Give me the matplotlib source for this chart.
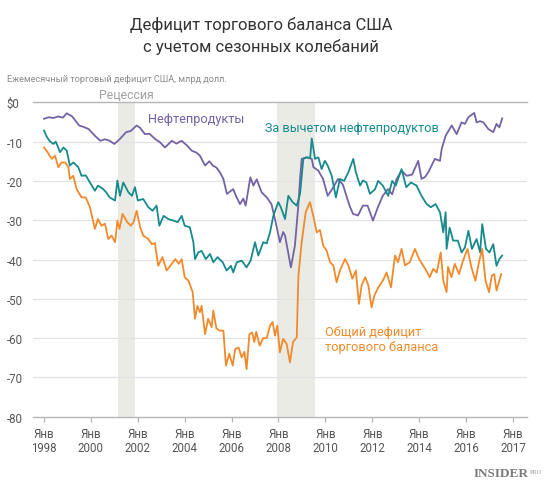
import matplotlib
matplotlib.use("Agg")
from matplotlib import pyplot as plt

plt.rcParams['font.family'] = ['Roboto', 'DejaVu Sans']

# petroleum balance (decimal year, bn USD)
oil_years = [1998.0, 1998.2, 1998.4, 1998.6, 1998.8, 1998.97, 1999.2, 1999.5, 1999.7, 1999.9,
             2000.15, 2000.4, 2000.6, 2000.8, 2001.0, 2001.24, 2001.5, 2001.7, 2001.95, 2002.1,
             2002.3, 2002.5, 2002.73, 2002.95, 2003.16, 2003.45, 2003.65, 2003.87, 2004.1, 2004.3,
             2004.5, 2004.65, 2004.87, 2005.05, 2005.2, 2005.35, 2005.5, 2005.65, 2005.8, 2006.07,
             2006.2, 2006.36, 2006.5, 2006.6, 2006.8, 2006.93, 2007.07, 2007.28, 2007.5, 2007.7,
             2007.85, 2008.06, 2008.2, 2008.28, 2008.53, 2008.7, 2008.85, 2008.92, 2008.99, 2009.2,
             2009.42, 2009.49, 2009.7, 2009.9, 2010.1, 2010.3, 2010.54, 2010.75, 2011.03, 2011.18,
             2011.39, 2011.6, 2011.8, 2012.03, 2012.24, 2012.45, 2012.67, 2012.85, 2013.04, 2013.25,
             2013.47, 2013.7, 2013.96, 2014.1, 2014.25, 2014.39, 2014.67, 2014.89, 2014.96, 2015.13,
             2015.39, 2015.6, 2015.81, 2015.95, 2016.1, 2016.35, 2016.45, 2016.6, 2016.74, 2016.95,
             2017.16, 2017.3, 2017.42, 2017.54]
oil_values = [-4.2, -3.8, -4.0, -3.6, -3.9, -2.8, -3.6, -5.9, -6.3, -6.8,
              -8.4, -9.8, -9.4, -9.8, -10.6, -9.3, -7.6, -7.3, -5.9, -6.5,
              -8.1, -8.0, -9.3, -10.2, -11.5, -9.8, -10.5, -9.8, -11.0, -12.3,
              -12.8, -13.6, -16.1, -15.0, -16.1, -16.6, -17.8, -19.5, -23.3, -22.1,
              -24.0, -25.9, -24.5, -26.3, -19.1, -21.2, -19.6, -22.9, -24.2, -25.9,
              -29.7, -35.6, -33.0, -33.9, -42.0, -36.5, -26.0, -19.5, -14.4, -14.0,
              -14.4, -16.5, -17.4, -19.5, -23.8, -22.0, -19.5, -21.0, -26.3, -28.4,
              -28.8, -26.3, -26.3, -30.1, -26.7, -23.8, -22.1, -23.4, -19.5, -17.4,
              -18.7, -18.4, -14.9, -19.5, -19.0, -17.8, -14.4, -14.9, -11.9, -8.5,
              -5.9, -8.1, -5.1, -5.5, -3.8, -2.7, -5.1, -4.8, -5.1, -6.8,
              -7.6, -5.5, -6.4, -4.1]

# non-petroleum balance
ex_years = [1998.0, 1998.12, 1998.23, 1998.4, 1998.5, 1998.57, 1998.68, 1998.83, 1998.97, 1999.1,
            1999.25, 1999.46, 1999.6, 1999.78, 1999.96, 2000.17, 2000.3, 2000.53, 2000.65, 2000.8,
            2001.03, 2001.13, 2001.24, 2001.38, 2001.6, 2001.75, 2001.88, 2002.0, 2002.23, 2002.45,
            2002.63, 2002.8, 2002.92, 2003.1, 2003.3, 2003.52, 2003.7, 2003.87, 2004.0, 2004.22,
            2004.37, 2004.44, 2004.58, 2004.72, 2004.9, 2005.08, 2005.22, 2005.4, 2005.62, 2005.79,
            2005.97, 2006.07, 2006.22, 2006.43, 2006.64, 2006.81, 2007.0, 2007.14, 2007.35, 2007.5,
            2007.64, 2007.78, 2007.99, 2008.1, 2008.28, 2008.42, 2008.6, 2008.78, 2008.92, 2009.06,
            2009.2, 2009.35, 2009.42, 2009.56, 2009.7, 2009.84, 2009.98, 2010.1, 2010.27, 2010.45,
            2010.62, 2010.8, 2010.98, 2011.19, 2011.3, 2011.48, 2011.6, 2011.75, 2011.9, 2012.12,
            2012.25, 2012.45, 2012.68, 2012.85, 2013.0, 2013.25, 2013.45, 2013.65, 2013.89, 2014.1,
            2014.32, 2014.5, 2014.7, 2014.89, 2015.03, 2015.13, 2015.17, 2015.3, 2015.45, 2015.65,
            2015.81, 2015.95, 2016.1, 2016.25, 2016.45, 2016.6, 2016.69, 2016.85, 2017.0, 2017.16,
            2017.3, 2017.42, 2017.54]
ex_values = [-7.2, -8.8, -9.8, -10.6, -10.0, -11.0, -12.7, -11.5, -12.3, -16.1,
             -15.3, -16.5, -18.7, -18.6, -20.4, -22.5, -21.2, -22.1, -22.9, -24.2,
             -25.0, -19.9, -23.8, -20.4, -22.9, -23.8, -21.6, -25.0, -24.6, -26.7,
             -27.6, -26.3, -31.4, -28.9, -29.7, -30.1, -30.5, -28.9, -31.4, -31.8,
             -35.6, -39.9, -38.2, -37.8, -39.9, -38.6, -40.7, -39.4, -40.7, -42.8,
             -41.6, -43.3, -40.7, -40.3, -42.0, -40.3, -35.6, -39.0, -35.6, -35.9,
             -33.1, -28.9, -25.4, -26.7, -29.7, -23.8, -25.4, -26.3, -23.3, -14.4,
             -14.0, -14.2, -9.2, -14.4, -14.0, -17.0, -14.9, -16.1, -18.7, -24.2,
             -19.5, -20.0, -17.8, -14.4, -17.8, -21.2, -19.9, -20.4, -23.3, -22.1,
             -20.0, -21.2, -23.8, -20.0, -21.2, -17.0, -21.6, -20.4, -21.2, -23.8,
             -25.9, -26.7, -25.9, -28.0, -33.1, -28.0, -37.3, -31.9, -35.2, -35.2,
             -38.2, -37.0, -32.7, -37.3, -34.8, -38.2, -31.0, -37.3, -38.2, -36.1,
             -41.6, -39.9, -39.0]

# total balance
tot_years = [1998.0, 1998.15, 1998.33, 1998.47, 1998.61, 1998.75, 1998.9, 1999.04, 1999.1, 1999.25,
             1999.39, 1999.6, 1999.78, 1999.96, 2000.17, 2000.3, 2000.45, 2000.6, 2000.74, 2000.88,
             2001.03, 2001.13, 2001.22, 2001.35, 2001.55, 2001.7, 2001.82, 2001.95, 2002.1, 2002.23,
             2002.45, 2002.6, 2002.73, 2002.87, 2003.05, 2003.23, 2003.45, 2003.6, 2003.75, 2003.87,
             2004.0, 2004.16, 2004.34, 2004.44, 2004.54, 2004.65, 2004.72, 2004.87, 2005.0, 2005.15,
             2005.22, 2005.35, 2005.48, 2005.65, 2005.76, 2005.9, 2006.05, 2006.15, 2006.3, 2006.43,
             2006.55, 2006.64, 2006.76, 2006.88, 2006.97, 2007.05, 2007.2, 2007.35, 2007.5, 2007.64,
             2007.75, 2007.85, 2007.95, 2008.06, 2008.2, 2008.35, 2008.49, 2008.62, 2008.78, 2008.85,
             2008.99, 2009.16, 2009.34, 2009.48, 2009.63, 2009.77, 2009.91, 2010.05, 2010.2, 2010.34,
             2010.48, 2010.62, 2010.84, 2010.98, 2011.15, 2011.3, 2011.43, 2011.55, 2011.7, 2011.83,
             2011.97, 2012.1, 2012.26, 2012.45, 2012.61, 2012.8, 2012.97, 2013.1, 2013.25, 2013.4,
             2013.6, 2013.82, 2014.0, 2014.3, 2014.45, 2014.6, 2014.75, 2014.92, 2015.03, 2015.17,
             2015.23, 2015.38, 2015.52, 2015.7, 2015.85, 2016.06, 2016.23, 2016.4, 2016.55, 2016.69,
             2016.83, 2016.98, 2017.1, 2017.2, 2017.3, 2017.42, 2017.5]
tot_values = [-11.5, -12.7, -14.4, -13.6, -16.5, -15.3, -15.3, -16.5, -19.5, -18.7,
              -22.1, -24.2, -24.2, -26.7, -32.2, -29.7, -31.4, -30.9, -34.8, -33.9,
              -35.6, -30.1, -32.2, -28.4, -30.5, -31.4, -30.5, -27.6, -31.8, -33.9,
              -34.8, -36.1, -35.8, -41.6, -39.4, -42.8, -41.1, -39.9, -41.1, -39.9,
              -44.5, -45.4, -48.3, -55.1, -51.8, -53.4, -51.8, -59.0, -55.1, -57.2,
              -53.0, -57.5, -58.1, -58.1, -67.0, -64.0, -67.0, -62.8, -62.4, -64.9,
              -63.5, -67.9, -59.0, -58.6, -61.0, -58.4, -61.9, -60.0, -60.0, -56.8,
              -55.9, -59.4, -56.8, -63.6, -60.2, -61.5, -66.2, -61.0, -59.8, -44.1,
              -35.6, -28.0, -25.4, -28.8, -33.1, -32.5, -36.5, -37.7, -40.7, -41.5,
              -45.8, -42.8, -39.9, -41.5, -44.9, -42.8, -51.3, -46.5, -44.5, -46.5,
              -52.2, -49.0, -47.1, -45.4, -43.3, -47.1, -39.0, -40.7, -37.3, -41.5,
              -40.7, -37.3, -39.9, -42.8, -44.5, -42.4, -43.3, -38.2, -45.4, -48.3,
              -41.9, -44.5, -41.1, -43.7, -40.7, -37.3, -42.0, -45.4, -40.7, -37.3,
              -45.4, -48.3, -44.1, -43.7, -47.9, -45.4, -43.7]

recessions = [(2001.17, 2001.88), (2007.94, 2009.55)]
tick_years = [1998, 2000, 2002, 2004, 2006, 2008, 2010, 2012, 2014, 2016, 2018]
tick_labels = ['Янв\n1998', 'Янв\n2000', 'Янв\n2002', 'Янв\n2004', 'Янв\n2006', 'Янв\n2008',
               'Янв\n2010', 'Янв\n2012', 'Янв\n2014', 'Янв\n2016', 'Янв\n2017']
y_ticks = [0, -10, -20, -30, -40, -50, -60, -70, -80]
y_labels = ['$0', '-10', '-20', '-30', '-40', '-50', '-60', '-70', '-80']

PURPLE = '#7462a6'
TEAL = '#168a8c'
ORANGE = '#f28a2b'
GREY_TXT = '#555555'

W, H = 550, 489
fig = plt.figure(figsize=(W / 100, H / 100), dpi=100)
ax = fig.add_axes([33 / W, 1 - 417.7 / H, (527 - 33) / W, (417.7 - 103.3) / H])
ax.set_xlim(1997.53, 2018.6)
ax.set_ylim(-80, 0)

for a, b in recessions:
    ax.axvspan(a, b, color='#ebebe6', lw=0, zorder=0)

for y in y_ticks[1:-1]:
    ax.axhline(y, color='#e3e3e3', lw=0.9, zorder=1)
ax.axhline(0, color='#b5b5b5', lw=1.0, zorder=1, clip_on=False)
ax.axhline(-80, color='#b5b5b5', lw=1.0, zorder=1, clip_on=False)

ax.plot(oil_years, oil_values, color=PURPLE, lw=1.3, zorder=3)
ax.plot(ex_years, ex_values, color=TEAL, lw=1.3, zorder=3)
ax.plot(tot_years, tot_values, color=ORANGE, lw=1.3, zorder=4)

for s in ax.spines.values():
    s.set_visible(False)
ax.set_xticks(tick_years)
ax.set_xticklabels(tick_labels, fontsize=8.3, color=GREY_TXT, linespacing=1.1)
ax.tick_params(axis='x', length=3.6, width=0.9, color='#b5b5b5', pad=4)
ax.set_yticks(y_ticks)
ax.set_yticklabels(y_labels, fontsize=8.3, color=GREY_TXT, ha='left')
ax.tick_params(axis='y', length=0, pad=19)

ax.text(2001.52, 1.9, 'Рецессия', fontsize=8.8, color='#a0a0a0', ha='center', va='center', clip_on=False)
ax.text(2002.43, -4.0, 'Нефтепродукты', fontsize=9.2, color=PURPLE, va='center')
ax.text(2007.42, -6.3, 'За вычетом нефтепродуктов', fontsize=9.2, color=TEAL, va='center')
ax.text(2009.98, -60.2, 'Общий дефицит\nторгового баланса', fontsize=9.2, color=ORANGE,
        va='center', linespacing=1.25)

fig.text(261 / W, 1 - 36 / H, 'Дефицит торгового баланса США\nс учетом сезонных колебаний',
         ha='center', va='center', fontsize=12, color='#333333', linespacing=1.4)
fig.text(7 / W, 1 - 80 / H, 'Ежемесячный торговый дефицит США, млрд долл.',
         fontsize=6.6, color='#8c8c8c', va='center')

fig.text(474 / W, 1 - 474 / H, 'INSIDER', family=['Liberation Serif', 'DejaVu Serif'],
         fontweight='bold', fontsize=9.5, color='#7a7a7a', va='center')
fig.text(530 / W, 1 - 472 / H, 'PRO', family=['Liberation Serif', 'DejaVu Serif'],
         fontsize=4.5, color='#9a9a9a', va='center', ha='left')

fig.savefig('out.png', dpi=100)
